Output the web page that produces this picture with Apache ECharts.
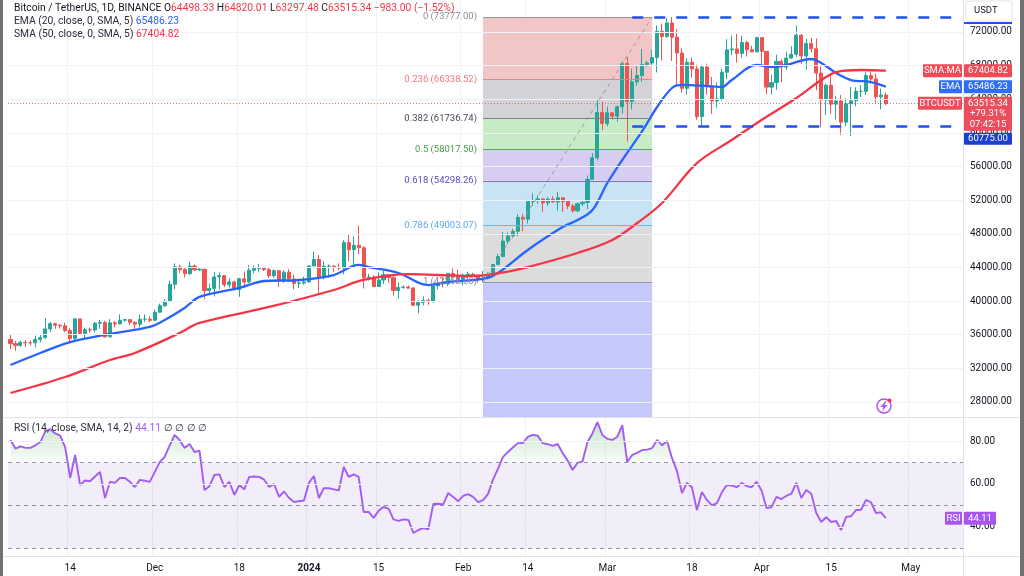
<!DOCTYPE html>
<html><head><meta charset="utf-8">
<script src="https://cdn.jsdelivr.net/npm/echarts@6/dist/echarts.min.js"></script>
<style>html,body{margin:0;padding:0;background:#fff}#c{width:1024px;height:576px}</style>
</head><body><div id="c"></div>
<script>
// ---------- DATA ----------
const firstDay = [2023, 10, 2];   // 2 Nov 2023 (month 0-based)
const dayCount = 192;             // categories on the time axis (incl. empty future space)

const opens = [35420,34938,34732,35082,35049,35037,35443,35655,36693,37313,37138,37054,36502,35537,37880,36154,36596,36568,37359,37448,35745,37413,37289,37720,37796,37479,37254,37832,37854,
37723,38682,39458,39972,41991,44073,43762,43274,44170,43713,43789,41253,41492,42869,43022,41940,42278,41374,42657,42275,43668,43861,43997,43739,43016,43613,42520,43442,42627,42099,42156,
42283,44179,44946,42845,44151,44162,43974,43929,46951,46110,46633,46339,42782,42847,41732,42511,43137,42777,41262,41618,41665,41545,39507,39845,40077,39934,41816,42120,42035,43288,42952,
42582,43082,43200,43011,42582,42708,43098,44349,45288,47132,47751,48294,49958,49742,51826,51939,52148,51680,52122,51780,52284,51839,51304,50731,51571,51733,54476,57037,62432,
61130,62387,61987,63113,68245,63724,66074,66823,68124,68313,68955,72078,71452,73072,71388,69499,65300,68393,67609,61937,67840,65501,63796,64037,67211,69880,69988,69455,70744,69892,69645,
71333,69702,65446,65980,68508,67837,68896,69360,71620,69146,70631,70006,67116,63924,65661,63419,63793,61277,63470,63818,64941,64941,66819,66414,64289,64498.33];
const highs = [35984,35250,35300,35380,35290,35890,35980,37972,37526,37408,37228,37420,36769,37980,37920,36845,36857,37540,37750,37650,37860,37653,38414,37890,37830,37590,38390,38420,38170,
38999,39700,40250,42420,44488,44300,44047,44700,44358,44041,43800,42104,43475,43420,43080,42724,42424,42767,43497,44284,44240,44398,44000,43946,43781,43655,43683,43804,43124,42612,42899,
44184,45879,45500,44729,44361,44227,44495,47248,47972,47695,48969,46515,43257,43079,43400,43578,43198,42930,42196,41876,41872,41689,40129,40555,40300,42210,42194,42842,43305,43882,43745,
43286,43494,43380,43119,43569,43399,44396,45614,48200,48170,48592,50334,50368,52043,52816,52574,52191,52371,52485,52985,52372,52009,51548,51698,51950,54938,57588,63913,63676,
63114,62433,63231,68499,69000,67637,67985,69990,68541,69887,72800,73000,73650,73777,72357,70043,68904,68957,68124,68100,68240,66650,65999,67622,71150,71561,71769,71552,70913,70355,71366,
71342,69708,66914,69291,68725,69629,70326,72797,71758,71172,71305,71227,67929,65840,66867,64365,64499,64125,65450,65419,65695,67233,67199,67075,65297,64820.01];
const lows = [34300,34100,34550,34530,34740,34520,35120,35534,36333,36710,36750,36333,34946,35360,35965,35500,36210,36300,36700,35632,35670,36870,37251,37553,37150,36707,36870,37500,37500,
37616,38627,39280,39972,41414,43335,42821,43081,43584,43565,40222,40680,40555,41400,41666,41605,41252,40500,41811,42180,43330,43412,43590,42746,42765,41680,42167,42318,41424,41520,41965,
42180,44148,40750,42613,42784,43475,43662,43175,44748,44300,45606,41500,42436,41720,41718,42050,42200,40683,40280,41446,41500,39431,38555,39484,39550,39825,41394,41620,41800,42683,42276,
41884,42564,42880,42222,42258,42574,42788,44331,45242,46800,47557,47710,48300,49225,51314,51566,50625,51326,51715,50760,50625,50926,50521,50585,51283,50931,54450,56738,60364,
60800,61590,61320,62300,59005,62786,65600,66082,67861,68094,67194,68620,71333,68555,65630,64780,64533,66565,61555,60775,64529,62260,63000,63825,66385,69280,68359,68903,69077,69601,69562,
68110,64581,64559,65113,66011,67491,68824,69043,68210,67518,69567,65086,60660,62134,62274,61600,59768,60800,59600,63172,64278,64500,65864,63589,62794,63297.48];
const closes = [34938,34732,35082,35049,35037,35443,35655,36693,37313,37138,37054,36502,35537,37880,36154,36596,36568,37359,37448,35745,37413,37289,37720,37796,37479,37254,37832,37854,37723,
38682,39458,39972,41991,44073,43762,43274,44170,43713,43789,41253,41492,42869,43022,41940,42278,41374,42657,42275,43668,43861,43997,43739,43016,43613,42520,43442,42627,42099,42156,42283,
44179,44946,42845,44151,44162,43974,43929,46951,46110,46633,46339,42782,42847,41732,42511,43137,42777,41262,41618,41665,41545,39507,39845,40077,39934,41816,42120,42035,43288,42952,42582,
43082,43200,43011,42582,42708,43098,44349,45288,47132,47751,48294,49958,49742,51826,51939,52148,51680,52122,51780,52284,51839,51304,50731,51571,51733,54476,57037,62432,61130,
62387,61987,63113,68245,63724,66074,66823,68124,68313,68955,72078,71452,73072,71388,69499,65300,68393,67609,61937,67840,65501,63796,64037,67211,69880,69988,69455,70744,69892,69645,71333,
69702,65446,65980,68508,67837,68896,69360,71620,69146,70631,70006,67116,63924,65661,63419,63793,61277,63470,63818,64941,64941,66819,66414,64289,64498,63515.34];

// indicator lines at a set of dates
const emaPoints = [['2023-11-02',32400],['2023-11-08',33830],['2023-11-14',35130],['2023-11-22',36090],['2023-11-30',36920],['2023-12-03',37750],['2023-12-07',39180],['2023-12-10',40500],['2023-12-18',41560],['2023-12-23',42390],['2023-12-30',42510],['2024-01-06',43100],['2024-01-11',44300],['2024-01-13',44050],['2024-01-19',43340],['2024-01-25',41900],['2024-01-29',42270],['2024-02-05',42630],['2024-02-08',43340],['2024-02-14',46080],['2024-02-21',48810],['2024-02-24',49640],['2024-02-27',50830],['2024-03-01',54040],['2024-03-04',56780],['2024-03-08',60200],['2024-03-11',63080],['2024-03-14',65340],['2024-03-16',65700],['2024-03-21',65580],['2024-03-24',65460],['2024-03-26',66290],['2024-03-31',68080],['2024-04-03',67840],['2024-04-06',68080],['2024-04-11',68790],['2024-04-13',68320],['2024-04-16',67120],['2024-04-19',66290],['2024-04-23',66050],['2024-04-26',65486.23]];
const smaPoints = [['2023-11-02',29070],['2023-11-13',30970],['2023-11-22',32990],['2023-11-27',33830],['2023-12-06',36200],['2023-12-10',37400],['2023-12-24',39300],['2024-01-06',41320],['2024-01-12',42510],['2024-01-21',43200],['2024-01-27',43100],['2024-02-03',43000],['2024-02-08',43300],['2024-02-14',44050],['2024-02-24',45720],['2024-03-02',47270],['2024-03-07',49290],['2024-03-12',51670],['2024-03-19',56400],['2024-03-26',59160],['2024-04-01',61540],['2024-04-08',64150],['2024-04-13',66290],['2024-04-16',67240],['2024-04-21',67480],['2024-04-26',67404.82]];

const rsiValues = [80.5,76.5,77.5,76.8,76.8,78,79.5,84.5,85.5,83.5,82.5,77,62.8,73.5,59.5,61.6,61.3,63.5,65.6,53.5,61,60.5,62.8,62.8,61,58.6,61.9,61.5,61,65.5,
70.2,72.6,78,82.8,80.5,76.7,78.6,74.9,75.5,57.2,59,64.2,64.5,58.6,61,54.9,59.5,57.5,63.3,63.5,
63.3,62,58.6,60,54,56.5,53.5,51.6,52,52.3,60.5,63.7,53.5,58.1,58,57.5,57,67.9,63.3,64.5,
63.3,47,47,44.2,47.5,49.3,48.5,43.5,42.8,43.5,43.3,37.2,38.6,39.5,38.9,50.7,50.8,50.5,55.8,54,
52,54.5,55.3,54,51.6,52.5,55.3,62,67,72.5,74.9,77,79,79,81.9,82.8,82.5,79,78.5,77.7,
78.6,74.4,71,66.5,69.8,70.5,79.5,83.5,88.8,82.8,81,80.5,82,87.4,70.2,73.5,74.5,75.8,76,76.7,
80.5,78,80,72,66,55.8,60.5,58.5,47.9,56.3,52.6,50.2,51,56,59.5,59.3,58.5,60.5,59,58.5,
61,57,48.8,49.2,54,53,54.5,55.5,60.5,53.5,57.2,55.5,46.5,42.3,44.5,42.3,42.8,38.6,44.7,45,
47.9,48,52.6,51.5,46.5,46.8,44.11];

const timeTickDates = ['2023-11-14','2023-12-01','2023-12-18','2024-01-01','2024-01-15','2024-02-01','2024-02-14','2024-03-01','2024-03-18','2024-04-01','2024-04-15','2024-05-01'];
const timeTickLabels = ['14','Dec','18','2024','15','Feb','14','Mar','18','Apr','15','May'];
const priceTicks = [28000,32000,36000,40000,44000,48000,52000,56000,60000,64000,68000,72000];
const rsiTicks = [40,60,80];

const fibLevels = ['0','0.236','0.382','0.5','0.618','0.786','1'];
const fibPrices = [73777.00,66338.52,61736.74,58017.50,54298.26,49003.07,42258.00];
const fibStart = '2024-02-05', fibEnd = '2024-03-10';
const rangeTop = 73777, rangeBottom = 60775, rangeStart = '2024-03-06';
const lastClose = 63515.34, lastSma = 67404.82, lastEma = 65486.23, lastRsi = 44.11;

// ---------- BUILD ----------
const dates = [];
const t0 = Date.UTC(firstDay[0], firstDay[1], firstDay[2]);
for (let i = 0; i < dayCount; i++) dates.push(new Date(t0 + i * 86400000).toISOString().slice(0, 10));
const lastDate = dates[dates.length - 1];
const candles = closes.map((c, i) => [opens[i], c, lows[i], highs[i]]);
const tickMap = new Map(timeTickDates.map((d, i) => [d, timeTickLabels[i]]));
const isTick = (idx, val) => tickMap.has(val);

const FONT = 'Roboto, "Noto Sans", sans-serif';
const TXT = '#131722';
const GRIDC = '#f0f2f7';
const PMIN = 26216, PMAX = 75805, RMIN = 26.5, RMAX = 90.7;
const LF = 10.3; // legend font size

const fibZoneColors = ['#f2c6c7','#d3d3d7','#c7eac7','#d7cdf1','#c7e3f4','#dcdcdc','#c4c8fa'];
const fibLineColors = ['#9598a1','#f28088','#7b7e88','#4caf50','#7f6fd2','#64b5f6','#9598a1'];
const fibLabelColors = ['#8a8d96','#ee7a83','#4a4d57','#43a047','#5a4cb5','#5aa9ee','#8a8d96'];

const zones = fibPrices.map((p, i) => [
  { xAxis: fibStart, yAxis: p, itemStyle: { color: fibZoneColors[i], opacity: 1 } },
  { xAxis: fibEnd, yAxis: i < fibPrices.length - 1 ? fibPrices[i + 1] : PMIN }
]);
const fibLines = fibPrices.map((p, i) => [
  { coord: [fibStart, p], lineStyle: { color: fibLineColors[i], width: 1, type: 'solid' },
    label: { show: true, position: 'start', distance: 6, formatter: fibLevels[i] + ' (' + p.toFixed(2) + ')',
             color: fibLabelColors[i], fontSize: 9.5, fontFamily: FONT } },
  { coord: [fibEnd, p] }
]);
fibLines.push([
  { coord: [fibStart, fibPrices[6]], lineStyle: { color: '#9a9a9a', width: 1, type: [4, 4] }, label: { show: false } },
  { coord: [fibEnd, fibPrices[0]] }
]);

const xAxisBase = (gi) => ({
  type: 'category', gridIndex: gi, data: dates, boundaryGap: true,
  axisLine: { show: false }, axisTick: { show: false },
  splitLine: { show: true, interval: isTick, lineStyle: { color: GRIDC, width: 1 } }
});

const option = {
  animation: false,
  backgroundColor: '#ffffff',
  grid: [
    { left: 8, right: 61, top: 0, height: 417 },
    { left: 8, right: 61, top: 418, height: 138 }
  ],
  xAxis: [
    Object.assign(xAxisBase(0), { axisLabel: { show: false } }),
    Object.assign(xAxisBase(1), {
      axisLabel: { show: true, interval: isTick, margin: 7, color: TXT, fontSize: 10, fontFamily: FONT,
        formatter: v => { const t = tickMap.get(v) || ''; return /^\d{4}$/.test(t) ? '{b|' + t + '}' : t; },
        rich: { b: { fontWeight: 'bold', fontSize: 10, fontFamily: FONT, color: TXT } } }
    })
  ],
  yAxis: [
    { type: 'value', gridIndex: 0, position: 'right', min: PMIN, max: PMAX, scale: true,
      axisLine: { show: false }, axisTick: { show: false, customValues: priceTicks },
      axisLabel: { customValues: priceTicks, formatter: v => v.toFixed(2), color: TXT, fontSize: 10, fontFamily: FONT, margin: 7 },
      splitLine: { show: false } },
    { type: 'value', gridIndex: 1, position: 'right', min: RMIN, max: RMAX, scale: true,
      axisLine: { show: false }, axisTick: { show: false, customValues: rsiTicks },
      axisLabel: { customValues: rsiTicks, formatter: v => v.toFixed(2), color: TXT, fontSize: 10, fontFamily: FONT, margin: 7 },
      splitLine: { show: false } }
  ],
  series: [
    { name: 'hgrid', type: 'line', data: [], xAxisIndex: 0, yAxisIndex: 0, z: 0, silent: true,
      markLine: { silent: true, symbol: ['none', 'none'], label: { show: false },
        lineStyle: { color: GRIDC, width: 1, type: 'solid' }, data: priceTicks.map(v => ({ yAxis: v })) } },
    { name: 'fib', type: 'line', data: [], xAxisIndex: 0, yAxisIndex: 0, z: 1, silent: true,
      markArea: { silent: true, data: zones },
      markLine: { silent: true, symbol: ['none', 'none'], data: fibLines } },
    { name: 'BTCUSDT', type: 'candlestick', xAxisIndex: 0, yAxisIndex: 0, z: 3, barWidth: '72%',
      data: candles,
      itemStyle: { color: '#26a69a', color0: '#ef5350', borderColor: '#26a69a', borderColor0: '#ef5350', borderWidth: 1 } },
    { name: 'EMA', type: 'line', xAxisIndex: 0, yAxisIndex: 0, z: 4, data: emaPoints, smooth: 0.35,
      showSymbol: false, symbol: 'none', lineStyle: { color: '#2962ff', width: 2.3 } },
    { name: 'SMA', type: 'line', xAxisIndex: 0, yAxisIndex: 0, z: 4, data: smaPoints, smooth: 0.35,
      showSymbol: false, symbol: 'none', lineStyle: { color: '#f23645', width: 2.3 } },
    { name: 'levels', type: 'line', data: [], xAxisIndex: 0, yAxisIndex: 0, z: 5, silent: true,
      markLine: { silent: true, symbol: ['none', 'none'], label: { show: false },
        data: [
          [{ coord: [rangeStart, rangeTop], lineStyle: { color: '#2050f0', width: 2.5, type: [11, 11] } }, { coord: [lastDate, rangeTop] }],
          [{ coord: [rangeStart, rangeBottom], lineStyle: { color: '#2050f0', width: 2.5, type: [11, 11] } }, { coord: [lastDate, rangeBottom] }],
          { yAxis: lastClose, lineStyle: { color: '#f23645', width: 1, type: [1, 2], opacity: 0.7 } }
        ] } },
    { name: 'rsigrid', type: 'line', data: [], xAxisIndex: 1, yAxisIndex: 1, z: 0, silent: true,
      markLine: { silent: true, symbol: ['none', 'none'], label: { show: false },
        lineStyle: { color: GRIDC, width: 1, type: 'solid' }, data: rsiTicks.map(v => ({ yAxis: v })) } },
    { name: 'RSI', type: 'line', xAxisIndex: 1, yAxisIndex: 1, z: 4, data: rsiValues,
      showSymbol: false, symbol: 'none', lineStyle: { color: '#a35cf2', width: 1.9 },
      areaStyle: { color: 'rgba(0,0,0,0)' },
      markArea: { silent: true, itemStyle: { color: 'rgba(126,87,194,0.10)' }, data: [[{ yAxis: 30 }, { yAxis: 70 }]] },
      markLine: { silent: true, symbol: ['none', 'none'], label: { show: false },
        lineStyle: { color: '#8f929b', width: 1, type: [4, 4] }, data: [{ yAxis: 70 }, { yAxis: 50 }, { yAxis: 30 }] } }
  ]
};

const chart = echarts.init(document.getElementById('c'), null, { width: 1024, height: 576 });
chart.setOption(option);

// green overbought fill above 70 (gradient in pixel space)
const y70 = chart.convertToPixel({ yAxisIndex: 1 }, 70);
const yTopR = chart.convertToPixel({ yAxisIndex: 1 }, RMAX);
chart.setOption({ series: [{ name: 'RSI', areaStyle: { color: {
  type: 'linear', x: 0, y: yTopR, x2: 0, y2: y70, global: true,
  colorStops: [{ offset: 0, color: 'rgba(76,175,80,0.5)' }, { offset: 0.97, color: 'rgba(76,175,80,0.06)' }, { offset: 1, color: 'rgba(76,175,80,0)' }] } } }] });

// ---------- overlays (badges, legends, frame) ----------
const py = v => chart.convertToPixel({ yAxisIndex: 0 }, v);
const ry = v => chart.convertToPixel({ yAxisIndex: 1 }, v);
const G = [];
const Z = 100;
function box(x, y, w, h, fill) { G.push({ type: 'rect', z: Z, shape: { x, y, width: w, height: h, r: 1 }, style: { fill } }); }
function txt(x, y, text, fill, opt) {
  G.push({ type: 'text', z: Z + 1, x, y, style: Object.assign({ text, fill, fontSize: 9.5, fontFamily: FONT,
    textAlign: 'left', textVerticalAlign: 'middle' }, opt || {}) });
}
function line(x1, y1, x2, y2, stroke, w) { G.push({ type: 'line', z: Z - 1, shape: { x1, y1, x2, y2 }, style: { stroke, lineWidth: w || 1 } }); }

// frame
line(963.5, 0, 963.5, 576, '#e0e3eb');
line(3, 417.5, 1020, 417.5, '#e0e3eb');
line(3, 556.5, 1020, 556.5, '#e0e3eb');
G.push({ type: 'rect', z: Z + 5, shape: { x: 0, y: 0, width: 3, height: 576 }, style: { fill: '#707070' } });
G.push({ type: 'rect', z: Z + 5, shape: { x: 1020, y: 0, width: 4, height: 576 }, style: { fill: '#707070' } });

// USDT box
G.push({ type: 'rect', z: Z, shape: { x: 966, y: 1, width: 46, height: 20, r: 2 }, style: { fill: '#fff', stroke: '#e0e3eb' } });
txt(974, 11, 'USDT', TXT, { fontSize: 9.5 });
line(964, 23, 1012, 23, '#2050f0', 2);

// price badges
const ySma = py(lastSma), yEma = py(lastEma), yBtc = py(lastClose);
box(923, ySma - 6.5, 39, 13, '#ef4a55'); txt(942.5, ySma, 'SMA:MA', '#fff', { textAlign: 'center' });
box(964, ySma - 6.5, 48, 13, '#ef4a55'); txt(988, ySma, lastSma.toFixed(2), '#fff', { textAlign: 'center' });
box(939, yEma - 6.5, 23, 13, '#2f6df6'); txt(950.5, yEma, 'EMA', '#fff', { textAlign: 'center' });
box(964, yEma - 6.5, 48, 13, '#2f6df6'); txt(988, yEma, lastEma.toFixed(2), '#fff', { textAlign: 'center' });
box(918, yBtc - 6.5, 44, 13, '#eb4d5c'); txt(940, yBtc, 'BTCUSDT', '#fff', { textAlign: 'center' });
box(964, yBtc - 6.5, 48, 34, '#eb4d5c');
txt(988, yBtc, lastClose.toFixed(2), '#fff', { textAlign: 'center' });
txt(988, yBtc + 10.5, '+79.31%', '#fff', { textAlign: 'center' });
txt(988, yBtc + 21, '07:42:15', '#fff', { textAlign: 'center' });
const ySup = yBtc - 6.5 + 36;
box(964, ySup, 48, 12, '#1d3fd0'); txt(988, ySup + 6, rangeBottom.toFixed(2), '#fff', { textAlign: 'center' });

// RSI badge
const yR = ry(lastRsi);
box(945, yR - 6.5, 17, 13, '#a855f0'); txt(953.5, yR, 'RSI', '#fff', { textAlign: 'center' });
box(964, yR - 6.5, 32, 13, '#a855f0'); txt(980, yR, lastRsi.toFixed(2), '#fff', { textAlign: 'center' });

// legends
const rs = (fill) => ({ fill, fontSize: LF, fontFamily: FONT });
G.push({ type: 'text', z: Z + 1, x: 14, y: 8, style: {
  text: '{t|Bitcoin / TetherUS, 1D, BINANCE} {k|O}{r|64498.33} {k|H}{r|64820.01} {k|L}{r|63297.48} {k|C}{r|63515.34 −983.00 (−1.52%)}',
  textVerticalAlign: 'middle', fontSize: LF, fontFamily: FONT,
  rich: { t: rs(TXT), k: rs(TXT), r: rs('#f23645') } } });
G.push({ type: 'text', z: Z + 1, x: 14, y: 21, style: {
  text: '{t|EMA (20, close, 0, SMA, 5)} {v|65486.23}', textVerticalAlign: 'middle', fontSize: LF, fontFamily: FONT,
  rich: { t: rs('#2a2e39'), v: rs('#2962ff') } } });
G.push({ type: 'text', z: Z + 1, x: 14, y: 34, style: {
  text: '{t|SMA (50, close, 0, SMA, 5)} {v|67404.82}', textVerticalAlign: 'middle', fontSize: LF, fontFamily: FONT,
  rich: { t: rs('#2a2e39'), v: rs('#f23645') } } });
G.push({ type: 'text', z: Z + 1, x: 14, y: 428, style: {
  text: '{t|RSI (14, close, SMA, 14, 2)} {v|44.11} {t|∅ ∅ ∅ ∅}', textVerticalAlign: 'middle', fontSize: LF, fontFamily: FONT,
  rich: { t: rs('#2a2e39'), v: rs('#a35cf2') } } });

// lightning icon
G.push({ type: 'circle', z: Z, shape: { cx: 884, cy: 406, r: 7 }, style: { fill: '#fff', stroke: '#a855f0', lineWidth: 1.5 } });
G.push({ type: 'polygon', z: Z + 1, shape: { points: [[885.5, 401], [880.5, 407], [883.5, 407], [882, 411.5], [887.5, 405], [884.5, 405], [886.5, 401]] }, style: { fill: '#a855f0' } });
G.push({ type: 'circle', z: Z + 2, shape: { cx: 889.5, cy: 400.5, r: 2 }, style: { fill: '#f23645' } });

chart.setOption({ graphic: G });
</script>
</body></html>
